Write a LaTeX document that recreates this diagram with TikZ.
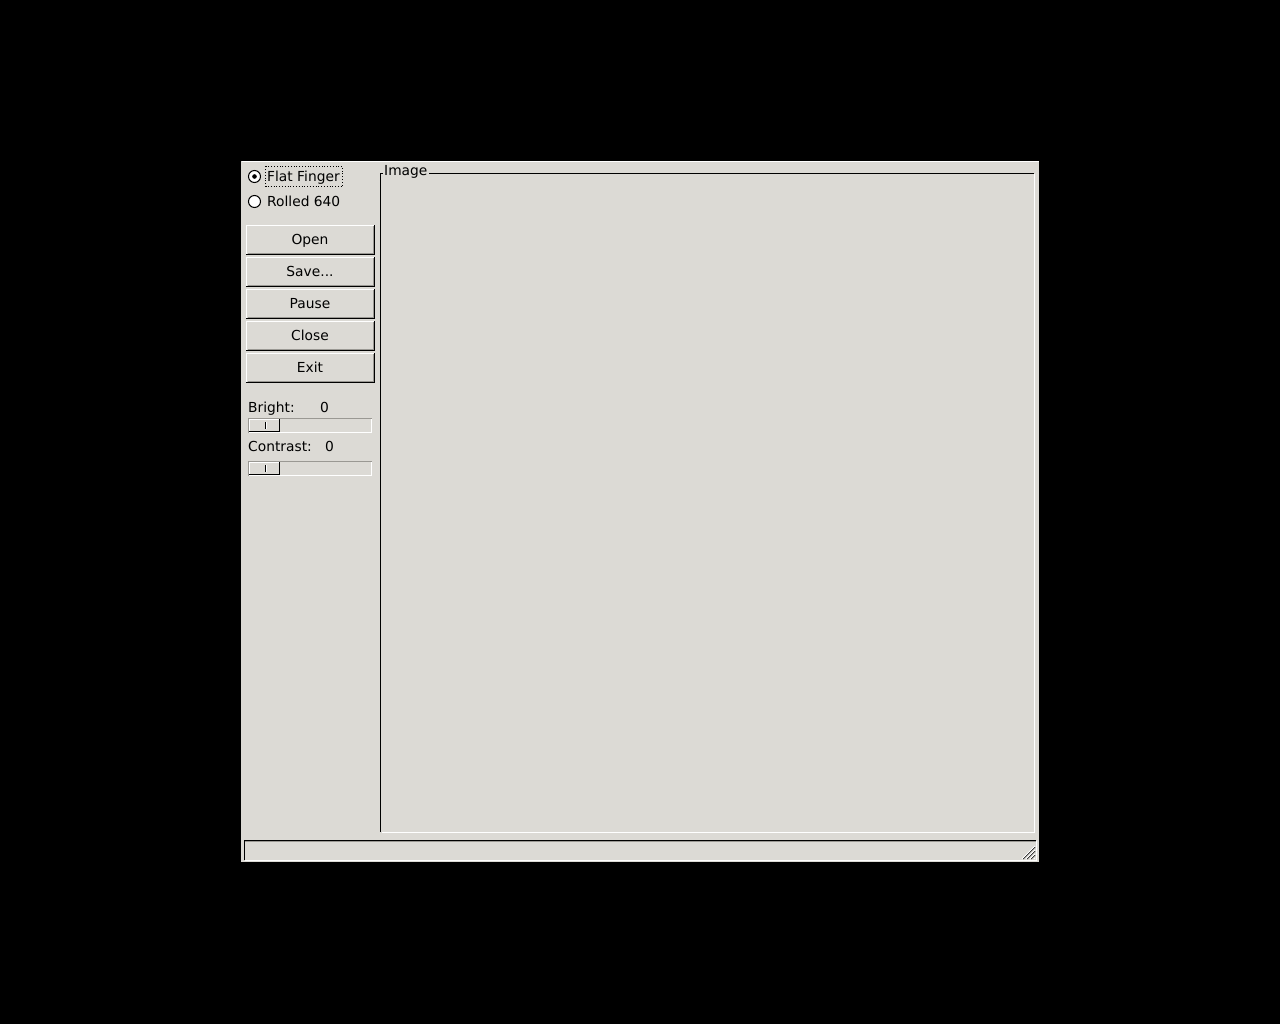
\documentclass[tikz,border=0pt]{standalone}
\usepackage{fontspec}
\setmainfont{DejaVu Sans}
\definecolor{winbg}{HTML}{DCDAD5}
\definecolor{shade}{HTML}{9A9893}
\begin{document}
\begin{tikzpicture}[x=1pt,y=-1pt,
  lbl/.style={inner sep=0pt,anchor=base west,font=\fontsize{13.8}{16}\selectfont,text=black},
  btnlbl/.style={inner sep=0pt,anchor=base,font=\fontsize{13.8}{16}\selectfont,text=black},
  hi/.style={draw=white,line width=1pt},
  lo/.style={draw=black,line width=1pt},
  mid/.style={draw=shade,line width=1pt}]
\useasboundingbox (0,0) rectangle (1280,1024);
\fill[black] (0,0) rectangle (1280,1024);
% window
\fill[winbg] (241,161) rectangle (1039,862);
\draw[hi] (241.5,161.5) -- (1038.5,161.5);
% radio buttons
\draw[black,line width=1pt,fill=white] (254.5,176.5) circle (6);
\fill[black] (254.5,176.5) circle (2.3);
\node[lbl] (flat) at (267,181.5) {Flat Finger};
\draw[black,line width=0.8pt,dotted] (265.5,166.5) rectangle (342.5,186.5);
\draw[black,line width=1pt,fill=white] (254.5,201.5) circle (6);
\node[lbl] (rolled) at (267,206.5) {Rolled 640};
% buttons
\foreach \t/\txt/\nm in {225/Open/bopen,257/Save{.}{.}{.}/bsave,289/Pause/bpause,321/Close/bclose,353/Exit/bexit}{
  \draw[hi] (246.5,\t+29) -- (246.5,\t+0.5) -- (373.5,\t+0.5);
  \draw[lo] (246,\t+29.5) -- (374.5,\t+29.5) -- (374.5,\t);
  \draw[mid] (247.5,\t+28.5) -- (373.5,\t+28.5) -- (373.5,\t+1);
  \node[btnlbl] (\nm) at (310,\t+19.3) {\txt};
}
% sliders
\node[lbl] (bright) at (248,412) {Bright:};
\node[lbl] (brightv) at (320,412) {0};
\node[lbl] (contrast) at (248,451) {Contrast:};
\node[lbl] (contrastv) at (325,451) {0};
\foreach \t in {418,461}{
  \draw[mid] (248.5,\t+15) -- (248.5,\t+0.5) -- (371.5,\t+0.5);
  \draw[hi] (248.5,\t+14.5) -- (371.5,\t+14.5) -- (371.5,\t+0.5);
  \draw[hi] (249.5,\t+13) -- (249.5,\t+1.5) -- (279,\t+1.5);
  \draw[lo] (249,\t+13.5) -- (279.5,\t+13.5) -- (279.5,\t+1);
  \draw[shade,line width=1pt] (265.5,\t+4) -- (265.5,\t+11);
  \draw[white,line width=1pt] (266.5,\t+4) -- (266.5,\t+11);
}
% frame
\draw[lo] (380.5,831.5) -- (380.5,173.5) -- (383,173.5);
\draw[lo] (429,173.5) -- (1033.5,173.5) -- (1033.5,174);
\draw[hi] (381.5,832.5) -- (1034.5,832.5) -- (1034.5,174);
\node[lbl] (imglbl) at (384,176) {Image};
% status bar
\draw[lo] (244.5,860) -- (244.5,840.5) -- (1036,840.5);
\draw[mid] (245,841.5) -- (1036,841.5);
\draw[hi] (244.5,860.5) -- (1036.5,860.5) -- (1036.5,841);
% resize grip
\foreach \d in {0,4,8,12}{
  \draw[shade,line width=1pt] (1035-\d,859) -- (1035,859-\d);
  \draw[white,line width=1pt] (1034-\d,859) -- (1035,858-\d);
}
\end{tikzpicture}
\end{document}
